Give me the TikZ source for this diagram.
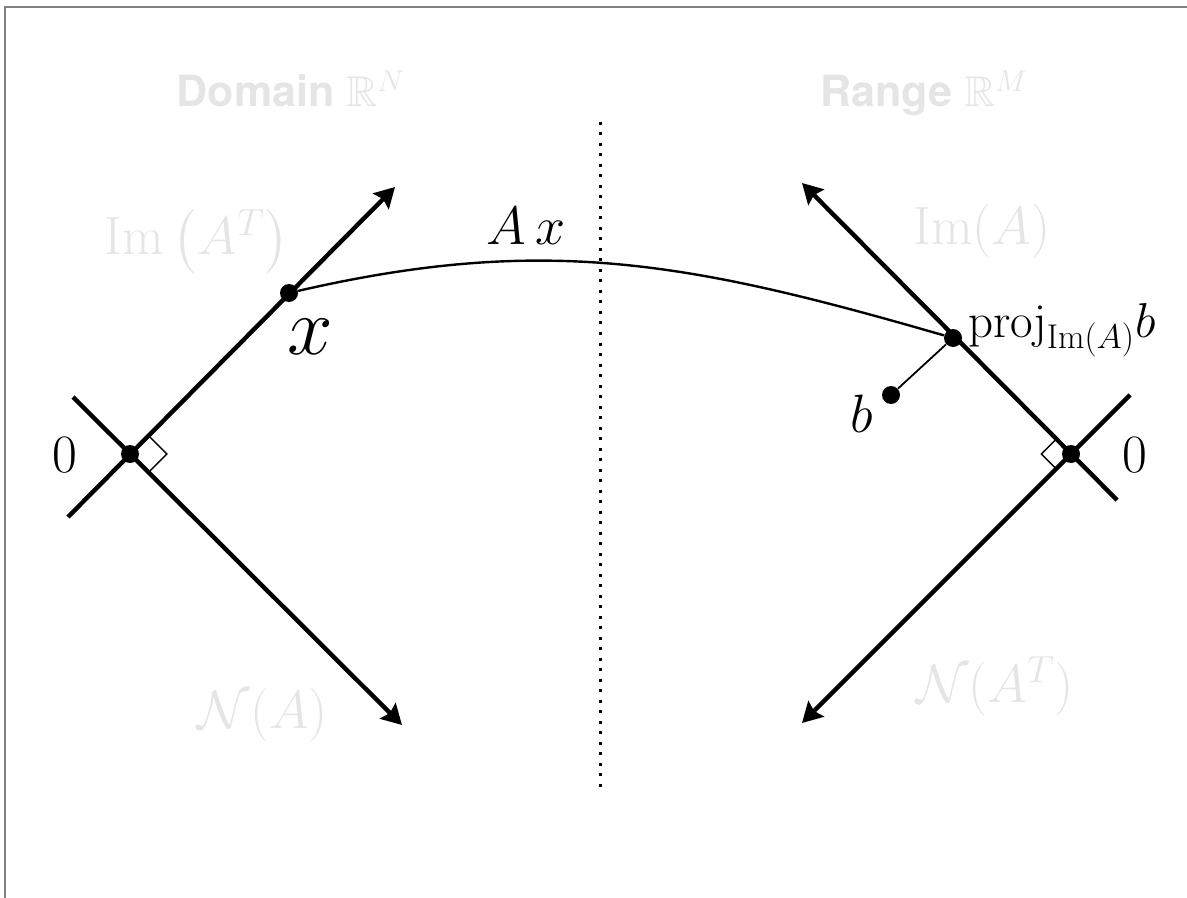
\RequirePackage{fix-cm}
\documentclass[tikz,border=0pt]{standalone}
\usepackage{amsmath}
\usepackage{amssymb}
\usepackage{fontspec}
\newfontfamily\helv{TeX Gyre Heros}
\usepackage{tikz}
\usetikzlibrary{arrows.meta}

\begin{document}
\begin{tikzpicture}[
  x=0.5pt, y=-0.5pt,
  vec/.style={line width=2.2pt, -{Stealth[length=10pt, width=11pt, inset=1.5pt]}},
  mapline/.style={line width=1.2pt},
  projline/.style={line width=0.9pt},
  rightangle/.style={line width=0.7pt},
  divider/.style={line width=1.5pt, dash pattern=on 1.5pt off 3.75pt},
  pageframe/.style={line width=1pt, draw=black!50},
  dot/.style={circle, fill, inner sep=0pt, minimum size=9pt},
  lbl/.style={inner sep=0pt, font=\fontsize{27}{30}\selectfont},
  glbl/.style={lbl, text=black!10},
  heading/.style={inner sep=0pt, text=black!10,
                  font=\helv\bfseries\fontsize{21.5}{24}\selectfont}
]
\useasboundingbox (0,0) rectangle (1187,898);
\draw[pageframe] (5,898) -- (5,7) -- (1187,7);

% ----- domain -----
\node[heading, anchor=base] (dom) at (291,107) {Domain $\mathbb{R}^N$};
\coordinate (o1) at (130,454);
\coordinate (imATend) at (68,517);
\coordinate (imATtip) at (395,187);
\coordinate (nAend) at (73,397);
\coordinate (nAtip) at (402,725);
\node[dot] (orig1) at (o1) {};
\node[dot] (xpt) at (289,293) {};
\node[lbl, anchor=base, font=\fontsize{41}{44}\selectfont] (xlab) at (310,355) {$x$};
\node[lbl, anchor=base] (zero1) at (65,472) {$0$};
\node[glbl, anchor=base] (imAT) at (197,255) {$\mathrm{Im}\left(A^T\right)$};
\node[glbl, anchor=base] (nA) at (263,728) {$\mathcal{N}(A)$};

% ----- range -----
\node[heading, anchor=base] (ran) at (924,107) {Range $\mathbb{R}^M$};
\coordinate (o2) at (1071,454);
\coordinate (imAend) at (1117,500);
\coordinate (imAtip) at (802,183);
\coordinate (nATend) at (1130,395);
\coordinate (nATtip) at (802,723);
\node[dot] (orig2) at (o2) {};
\node[dot] (proj) at (953,338) {};
\node[dot] (b) at (891,395) {};
\node[lbl, anchor=base] (blab) at (862,432) {$b$};
\node[lbl, anchor=base west, font=\fontsize{24.5}{27}\selectfont] (projlab) at (968,337)
  {$\mathrm{proj}_{\mathrm{Im}(A)}b$};
\node[lbl, anchor=base] (zero2) at (1135,472) {$0$};
\node[glbl, anchor=base] (imA) at (982,245) {$\mathrm{Im}(A)$};
\node[glbl, anchor=base] (nAT) at (995,702) {$\mathcal{N}(A^T)$};

% ----- map -----
\node[lbl, anchor=base] (Ax) at (526,245) {$A\,x$};
\coordinate (divtop) at (600,122);
\coordinate (divbot) at (600,787);

% ----- lines -----
\draw[vec] (imATend) -- (imATtip);
\draw[vec] (nAend) -- (nAtip);
\draw[rightangle] (148.4,435.6) -- (166.8,454) -- (148.4,472.4);
\draw[vec] (imAend) -- (imAtip);
\draw[vec] (nATend) -- (nATtip);
\draw[rightangle] (1056.2,439.2) -- (1041.3,454) -- (1056.2,468.8);
\draw[divider] (divtop) -- (divbot);
\draw[mapline] (xpt) .. controls (545,234) and (690,262) .. (proj);
\draw[projline] (proj) -- (b);

\end{tikzpicture}
\end{document}
